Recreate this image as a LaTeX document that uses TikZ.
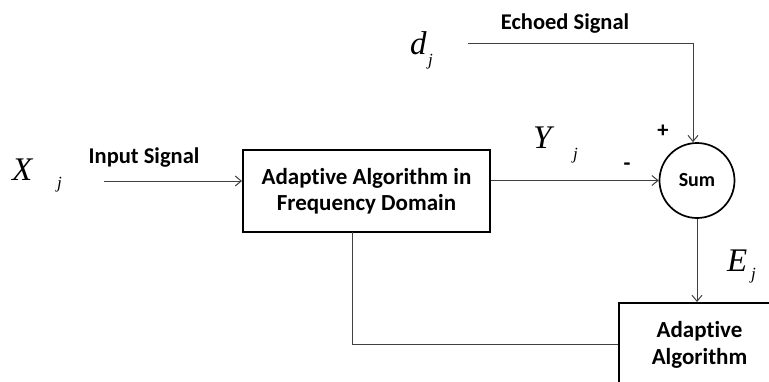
\documentclass[tikz,border=0pt]{standalone}
\usepackage{fontspec}
\usetikzlibrary{arrows.meta}
\newfontfamily\lblfont{Carlito}[Ligatures=NoCommon, RawFeature={-liga;-clig}]
\newfontfamily\tmsfont{Liberation Serif}
\tikzset{
  lbl/.style={font=\lblfont\bfseries\fontsize{22.5}{26}\selectfont, inner sep=0pt},
  mbig/.style={font=\tmsfont\itshape\fontsize{33}{36}\selectfont, inner sep=0pt, anchor=base west},
  msub/.style={font=\tmsfont\itshape\fontsize{17}{20}\selectfont, inner sep=0pt, anchor=base west},
  blockbox/.style={draw=black, line width=2pt, fill=white, align=center, inner sep=0pt,
    font=\lblfont\bfseries\fontsize{23}{26}\selectfont},
  conn/.style={draw=black!75, line width=1pt},
  arr/.style={conn, -{Straight Barb[length=6pt,width=10pt]}},
}
\begin{document}
\begin{tikzpicture}[x=1pt,y=-1pt]
\useasboundingbox (0,0) rectangle (769,381);
\clip (0,0) rectangle (769,381);
% blocks
\node[blockbox, minimum width=247pt, minimum height=82pt] (box1) at (366.5,191) {Adaptive Algorithm in\\Frequency Domain};
\node[draw=black, line width=1.7pt, circle, minimum size=75pt, inner sep=0pt,
  font=\lblfont\bfseries\fontsize{20}{22}\selectfont] (sum) at (697,180.5) {Sum};
\node[blockbox, minimum width=161pt, minimum height=83pt] (box2) at (699.5,344.5) {Adaptive\\[1pt]Algorithm};
% math labels
\node[mbig] (X) at (12,180) {X};
\node[msub] (Xj) at (57,188) {j};
\node[mbig] (d) at (410,54) {d};
\node[msub] (dj) at (428,65) {j};
\node[mbig] (Y) at (533,148) {Y};
\node[msub] (Yj) at (573,159) {j};
\node[mbig] (E) at (727,271) {E};
\node[msub] (Ej) at (751,279) {j};
% text labels
\node[lbl, anchor=base] (inlbl) at (144,163) {Input Signal};
\node[lbl, anchor=base] (echolbl) at (565,29) {Echoed Signal};
\node[lbl] (plus) at (663,131) {+};
\node[lbl] (minus) at (627,167) {-};
% connectors
\coordinate (in) at (104,181);
\coordinate (dstart) at (468,43);
\coordinate (fb) at (352,232);
\draw[arr] (in) -- (in -| box1.west);
\draw[arr] (box1.east |- sum.west) -- (sum.west);
\draw[arr] (dstart) -| ([xshift=-4pt]sum.north);
\draw[arr] (sum.south) -- (sum.south |- box2.north);
\draw[conn] (fb) |- (box2.west);
\end{tikzpicture}
\end{document}
